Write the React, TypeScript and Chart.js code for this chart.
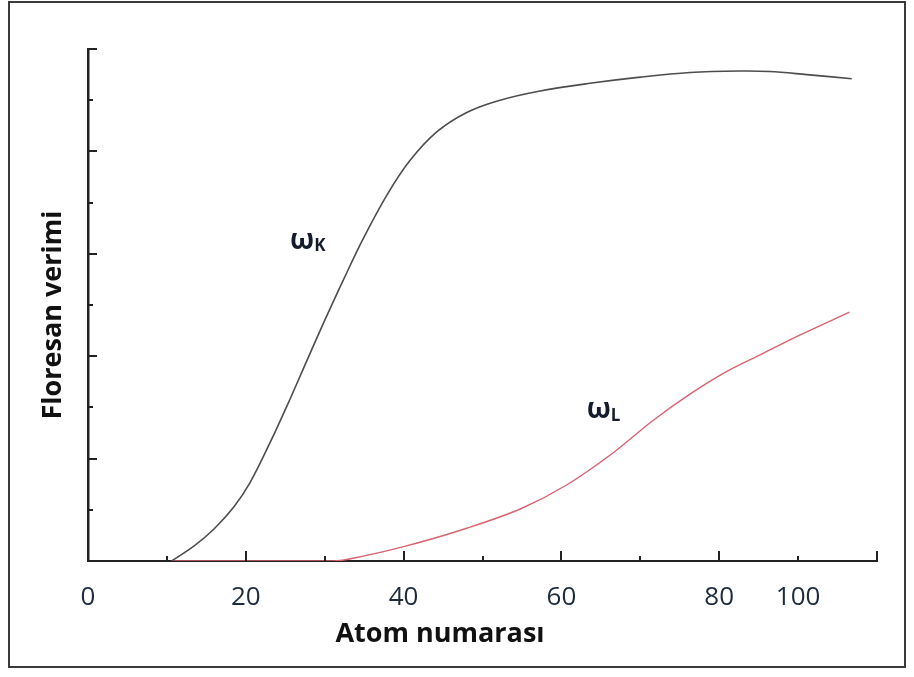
import React, { useEffect, useRef } from 'react';
import { Chart, registerables } from 'chart.js';

Chart.register(...registerables);

// ---- data ----
const OMEGA_K_Z = [10.6, 13.5, 16.0, 18.5, 20.5, 23.1, 25.6, 27.7, 29.8, 32.4, 34.9, 37.9, 40.8, 44.2, 48.0, 52.0, 57.3, 63.6, 70.0, 76.3, 82.6, 86.4, 91.1, 96.8];
const OMEGA_K_Y = [0, 0.03, 0.063, 0.106, 0.152, 0.232, 0.316, 0.39, 0.463, 0.55, 0.63, 0.715, 0.782, 0.838, 0.876, 0.899, 0.918, 0.933, 0.945, 0.954, 0.957, 0.956, 0.95, 0.942];
const OMEGA_L_Z = [10.6, 31.0, 35.0, 40.0, 48.0, 55.0, 60.6, 66.7, 71.4, 76.1, 80.8, 85.5, 90.2, 96.5];
const OMEGA_L_Y = [0, 0, 0.01, 0.028, 0.064, 0.103, 0.148, 0.213, 0.272, 0.324, 0.369, 0.405, 0.441, 0.486];

const X_TICK_LABELS = ['0', '', '20', '', '40', '', '60', '', '80', '100', ''];
const X_TITLE = 'Atom numarası';
const Y_TITLE = 'Floresan verimi';
const SERIES_MAIN = ['ω', 'ω'];
const SERIES_SUB = ['K', 'L'];

export default function App() {
  const ref = useRef<HTMLCanvasElement>(null);

  useEffect(() => {
    if (!ref.current) return;

    const annotations = [
      { z: 25.6, v: 0.609, subDy: 2 },
      { z: 63.2, v: 0.279, subDy: 3 },
    ];

    const decor = {
      id: 'decor',
      afterDraw(chart: any) {
        const { ctx } = chart;
        const x = chart.scales.x;
        const y = chart.scales.y;
        ctx.save();

        // outer frame
        ctx.strokeStyle = '#3a3a3a';
        ctx.lineWidth = 2;
        ctx.strokeRect(9, 2, 896, 665);

        // inward tick marks on y axis
        ctx.strokeStyle = '#222';
        ctx.lineWidth = 2;
        y.ticks.forEach((t: any) => {
          const py = Math.round(y.getPixelForValue(t.value));
          const even = Math.round(t.value * 10) % 2 === 0;
          const len = even ? 9 : 5;
          ctx.beginPath();
          ctx.moveTo(x.left, py);
          ctx.lineTo(x.left + len, py);
          ctx.stroke();
        });
        // inward tick marks on x axis
        x.ticks.forEach((t: any) => {
          const px = Math.round(x.getPixelForValue(t.value));
          const even = Math.round(t.value / 10) % 2 === 0;
          const len = even ? 10 : 5;
          ctx.beginPath();
          ctx.moveTo(px, y.bottom);
          ctx.lineTo(px, y.bottom - len);
          ctx.stroke();
        });

        // axis titles
        ctx.fillStyle = '#111';
        ctx.font = 'bold 27px "Open Sans"';
        ctx.textAlign = 'center';
        ctx.textBaseline = 'alphabetic';
        ctx.fillText(X_TITLE, 440, 642);

        ctx.save();
        ctx.translate(61, 315);
        ctx.rotate(-Math.PI / 2);
        ctx.fillText(Y_TITLE, 0, 0);
        ctx.restore();

        // series labels
        ctx.fillStyle = '#141c2c';
        ctx.textAlign = 'left';
        annotations.forEach((a, i) => {
          const px = x.getPixelForValue(a.z);
          const py = y.getPixelForValue(a.v);
          ctx.font = 'bold 28px "Open Sans"';
          ctx.fillText(SERIES_MAIN[i], px, py);
          const w = ctx.measureText(SERIES_MAIN[i]).width;
          ctx.font = 'bold 17px "Open Sans"';
          ctx.fillText(SERIES_SUB[i], px + w, py + a.subDy);
        });

        ctx.restore();
      },
    };

    const chart = new Chart(ref.current, {
      type: 'line',
      data: {
        datasets: [
          {
            label: 'ωK',
            data: OMEGA_K_Z.map((z, i) => ({ x: z, y: OMEGA_K_Y[i] })),
            borderColor: '#4d4d4d',
            borderWidth: 1.6,
            pointRadius: 0,
            tension: 0.35,
            fill: false,
          },
          {
            label: 'ωL',
            data: OMEGA_L_Z.map((z, i) => ({ x: z, y: OMEGA_L_Y[i] })),
            borderColor: '#d8636f',
            borderWidth: 1.4,
            pointRadius: 0,
            cubicInterpolationMode: 'monotone',
            fill: false,
          },
        ],
      },
      options: {
        animation: false,
        responsive: false,
        devicePixelRatio: 1,
        layout: { padding: { left: 0, right: 37, top: 49, bottom: 0 } },
        plugins: {
          legend: { display: false },
          tooltip: { enabled: false },
        },
        scales: {
          x: {
            type: 'linear',
            min: 0,
            max: 100,
            grid: { display: false },
            border: { display: true, color: '#222', width: 2 },
            ticks: {
              stepSize: 10,
              autoSkip: false,
              maxRotation: 0,
              padding: 13,
              color: '#1e2b3b',
              font: { family: '"Open Sans"', size: 26 },
              callback: (v: any) => X_TICK_LABELS[Math.round(Number(v) / 10)] ?? '',
            },
            afterFit: (s: any) => {
              s.height = 116;
            },
          },
          y: {
            type: 'linear',
            min: 0,
            max: 1,
            grid: { display: false },
            border: { display: true, color: '#222', width: 2.5 },
            ticks: { display: false, stepSize: 0.1 },
            afterFit: (s: any) => {
              s.width = 88;
            },
          },
        },
      },
      plugins: [decor],
    } as any);

    return () => chart.destroy();
  }, []);

  return (
    <div style={{ position: 'absolute', left: 0, top: 0, width: 914, height: 677, background: '#fff' }}>
      <canvas ref={ref} width={914} height={677} style={{ display: 'block' }} />
    </div>
  );
}
